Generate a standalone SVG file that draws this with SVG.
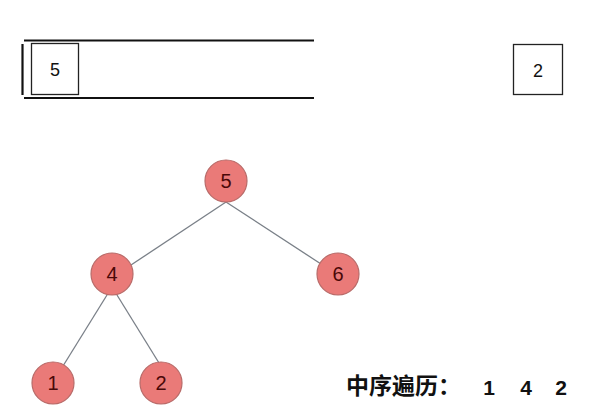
<svg xmlns="http://www.w3.org/2000/svg" width="600" height="417" viewBox="0 0 600 417">
<style>
.box{fill:#fff;stroke:#222;stroke-width:1.3}
.bar{stroke:#111;stroke-width:2.2}
.bt{font-family:"Liberation Sans",Arial,sans-serif;font-size:18px;fill:#111;text-anchor:middle}
.n{fill:#ea7a78;stroke:#b86a68;stroke-width:1.2}
.nt{font-family:"Liberation Sans",Arial,sans-serif;font-size:20px;fill:#4a0808;text-anchor:middle}
.e{stroke:#7a8088;stroke-width:1.3}
.lbl{font-family:"Noto Sans CJK SC","Noto Sans",sans-serif;font-size:23px;font-weight:bold;fill:#111}
.num{font-family:"Liberation Sans",Arial,sans-serif;font-size:21px;font-weight:bold;fill:#111;text-anchor:middle}
</style>
<rect width="600" height="417" fill="#fff"/>
<g id="stack">
<line class="bar" x1="24" y1="40.5" x2="314" y2="40.5"/>
<line class="bar" x1="24" y1="98" x2="314" y2="98"/>
<line class="bar" x1="22.5" y1="44" x2="22.5" y2="95"/>
<g id="stack-5"><rect class="box" x="31.5" y="43.5" width="47" height="51"/><text class="bt" x="55" y="76">5</text></g>
</g>
<g id="cur-2"><rect class="box" x="513.5" y="44.5" width="49" height="50"/><text class="bt" x="538" y="77">2</text></g>
<g id="edges">
<line class="e" x1="226" y1="202" x2="131" y2="265"/>
<line class="e" x1="226" y1="202" x2="321" y2="264"/>
<line class="e" x1="107" y1="295" x2="63" y2="366"/>
<line class="e" x1="117" y1="295" x2="159" y2="363"/>
</g>
<g id="node5"><circle class="n" cx="226" cy="181" r="21"/><text class="nt" x="226" y="188">5</text></g>
<g id="node4"><circle class="n" cx="112" cy="274" r="21"/><text class="nt" x="112" y="281">4</text></g>
<g id="node6"><circle class="n" cx="338" cy="274" r="21"/><text class="nt" x="338" y="281">6</text></g>
<g id="node1"><circle class="n" cx="53" cy="383" r="21"/><text class="nt" x="53" y="390">1</text></g>
<g id="node2"><circle class="n" cx="161" cy="383" r="21"/><text class="nt" x="161" y="390">2</text></g>
<g id="caption">
<text class="lbl" x="346" y="394">中序遍历：</text>
<text class="num" x="489" y="395">1</text>
<text class="num" x="526" y="395">4</text>
<text class="num" x="561" y="395">2</text>
</g>
</svg>
